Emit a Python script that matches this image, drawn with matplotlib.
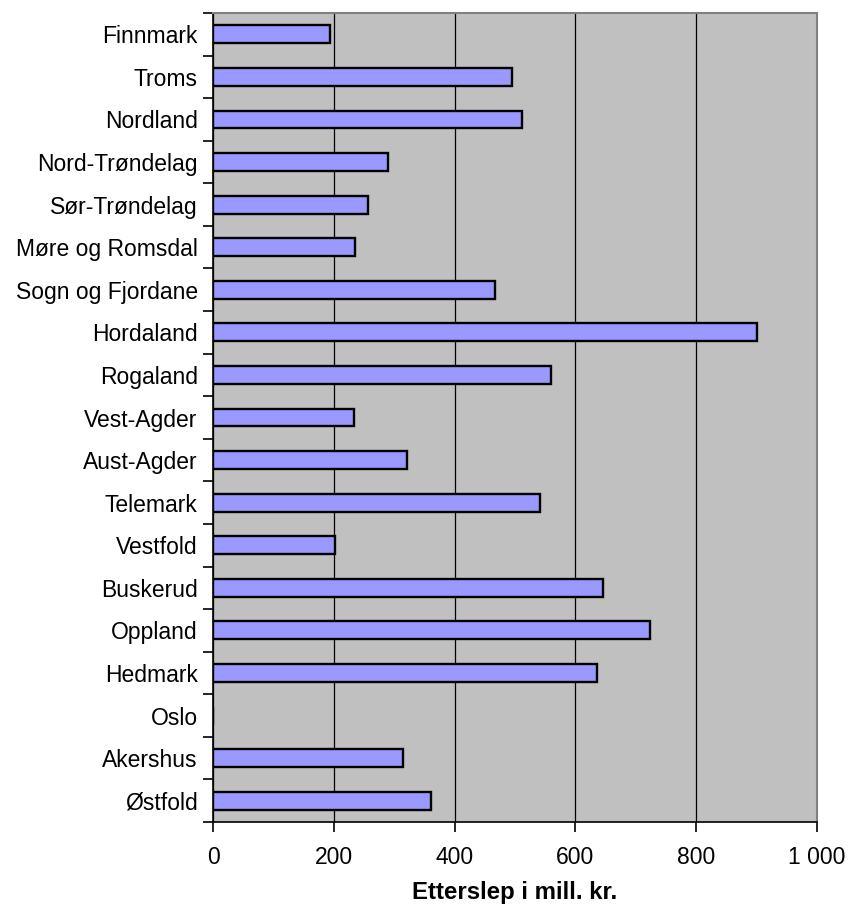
#!/usr/bin/env python3
"""Etterslep per fylke: horizontal bar chart in mill. kr."""

import matplotlib

matplotlib.use("Agg")
import matplotlib.pyplot as plt
import numpy as np
from matplotlib.ticker import FixedLocator, FuncFormatter

plt.rcParams.update(
    {
        "font.family": ["Liberation Sans", "DejaVu Sans"],
        "font.size": 16.5,
    }
)

# Counties, listed top to bottom
fylker = [
    "Finnmark", "Troms", "Nordland", "Nord-Trøndelag", "Sør-Trøndelag",
    "Møre og Romsdal", "Sogn og Fjordane", "Hordaland", "Rogaland",
    "Vest-Agder", "Aust-Agder", "Telemark", "Vestfold", "Buskerud",
    "Oppland", "Hedmark", "Oslo", "Akershus", "Østfold",
]
# Backlog, mill. kr.
etterslep = [
    193, 495, 512, 289, 256,
    235, 467, 900, 560,
    233, 322, 541, 202, 645,
    723, 636, 0, 314, 361,
]
x_ticks = [0, 200, 400, 600, 800, 1000]


def main():
    fig = plt.figure(figsize=(8.49, 9.09), dpi=100)
    ax = fig.add_axes([0.2509, 0.0957, 0.7114, 0.89])
    ax.set_facecolor("#C0C0C0")

    y = np.arange(len(fylker))
    ax.barh(y, etterslep, height=0.42, color="#9999FF",
            edgecolor="black", linewidth=1.7, zorder=3)

    ax.set_xlim(0, 1000)
    ax.set_ylim(len(fylker) - 0.5, -0.5)

    ax.set_xticks(x_ticks)
    ax.xaxis.set_major_formatter(
        FuncFormatter(lambda v, p: f"{int(v):,}".replace(",", " ")))
    ax.grid(axis="x", color="black", linewidth=0.9, zorder=1)

    ax.set_yticks(y)
    ax.set_yticklabels(fylker)
    ax.yaxis.set_minor_locator(FixedLocator(np.arange(-0.5, len(fylker), 1.0)))
    ax.tick_params(axis="y", which="major", length=0, pad=11)
    ax.tick_params(axis="y", which="minor", length=7, width=1.2,
                   color="black", direction="out")
    ax.tick_params(axis="x", length=7, width=1.2, direction="out", pad=10)

    for side in ("left", "bottom"):
        ax.spines[side].set_color("black")
        ax.spines[side].set_linewidth(1.2)
    for side in ("top", "right"):
        ax.spines[side].set_color("#808080")
        ax.spines[side].set_linewidth(1.5)

    ax.set_xlabel("Etterslep i mill. kr.", fontweight="bold",
                  fontsize=17.3, labelpad=9)

    fig.savefig("out.png", dpi=100, facecolor="white")
    plt.close(fig)


if __name__ == "__main__":
    main()
